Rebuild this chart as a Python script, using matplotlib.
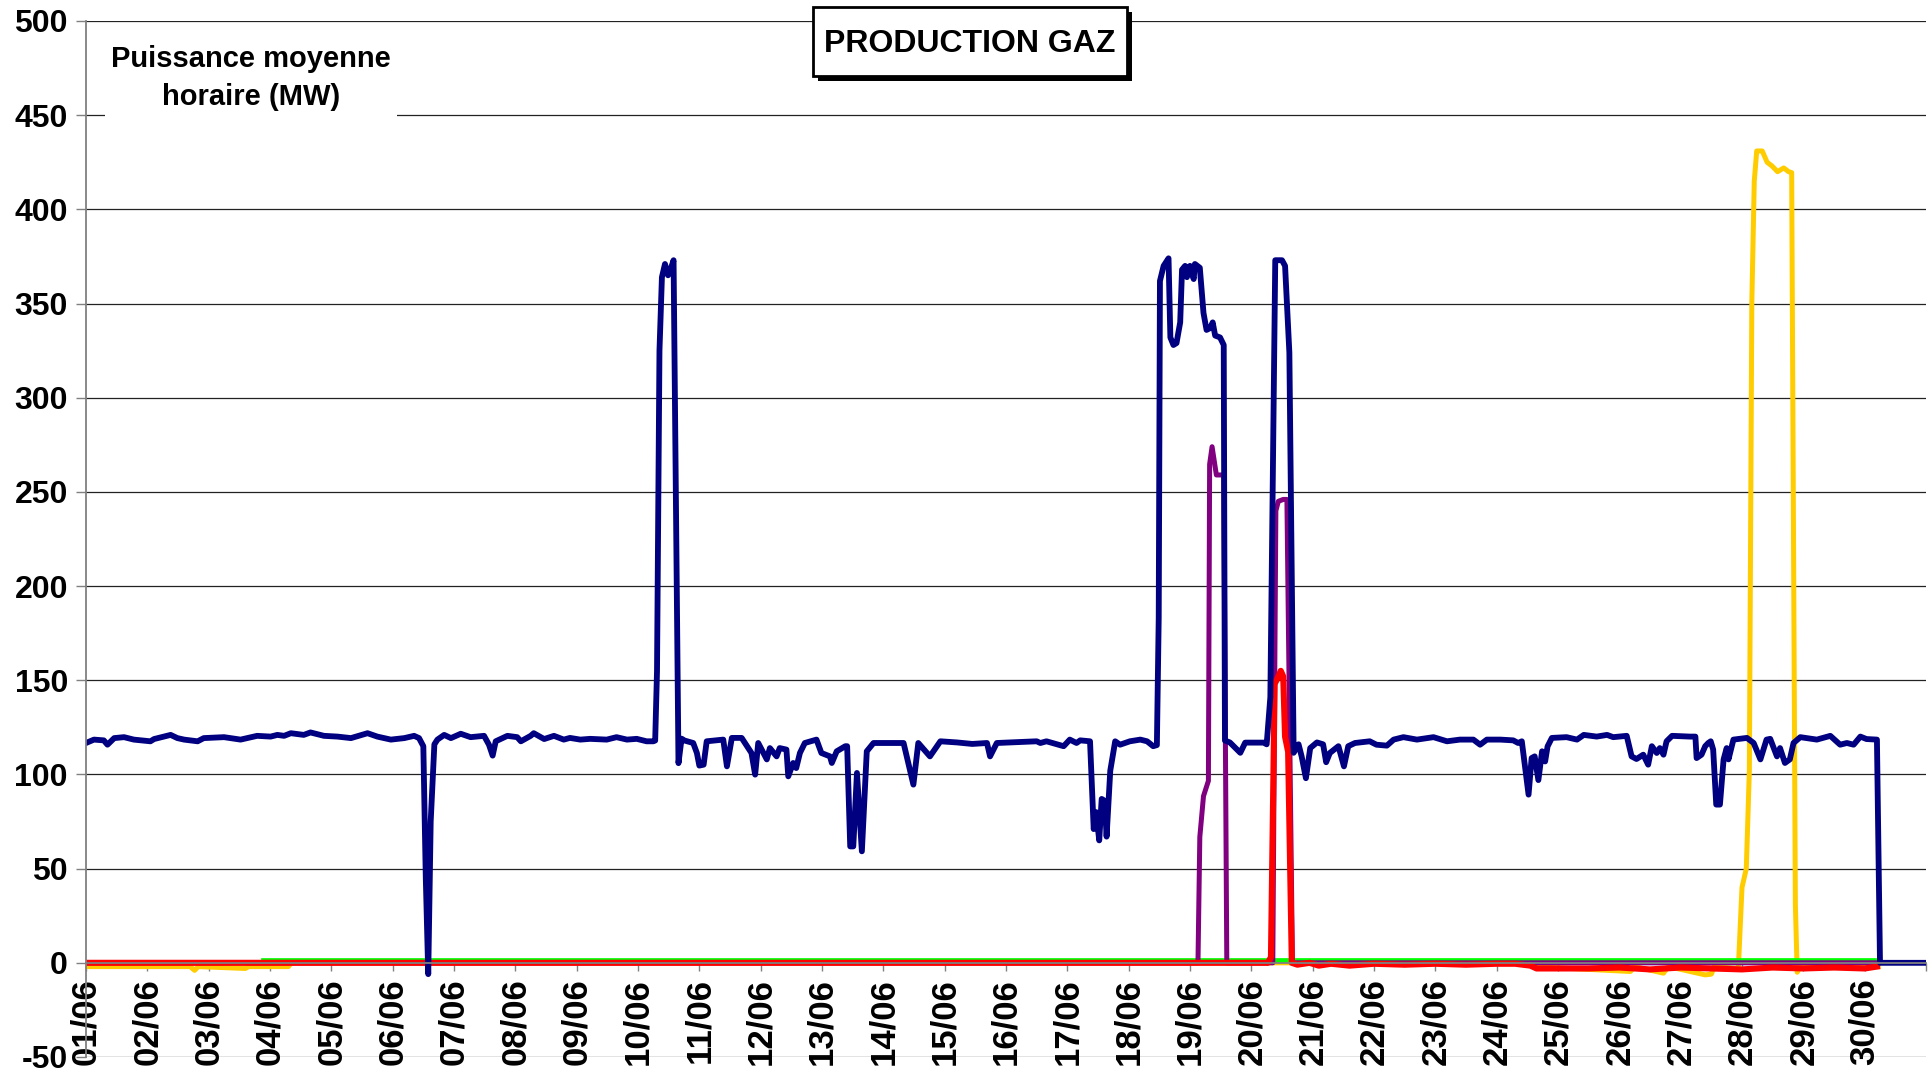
import matplotlib
matplotlib.use("Agg")
import matplotlib.pyplot as plt
from matplotlib.patches import Rectangle

plt.rcParams['font.family'] = ['Liberation Sans', 'DejaVu Sans']
plt.rcParams['font.weight'] = 'bold'
plt.rcParams['axes.unicode_minus'] = False

# x positions are days since 01/06 00h (hourly points)
blue_days = [0.00, 0.13, 0.29, 0.35, 0.46, 0.62, 0.78, 1.05, 1.11, 1.38, 1.49, 1.60, 1.82, 1.92,
             2.25, 2.52, 2.79, 3.01, 3.12, 3.23, 3.34, 3.55, 3.66, 3.88, 4.10, 4.32, 4.59, 4.75,
             4.97, 5.19, 5.35, 5.43, 5.50, 5.54, 5.58, 5.62, 5.68, 5.73, 5.84, 5.95, 6.11, 6.27,
             6.49, 6.57, 6.63, 6.68, 6.87, 7.03, 7.09, 7.25, 7.30, 7.47, 7.63, 7.79, 7.89, 8.06,
             8.22, 8.49, 8.65, 8.82, 8.98, 9.14, 9.25, 9.28, 9.31, 9.35, 9.39, 9.44, 9.49, 9.53,
             9.58, 9.66, 9.71, 9.76, 9.90, 9.96, 10.00, 10.07, 10.12, 10.39, 10.45, 10.53, 10.69,
             10.85, 10.91, 10.96, 11.10, 11.15, 11.26, 11.31, 11.42, 11.45, 11.53, 11.58, 11.64,
             11.72, 11.91, 11.99, 12.13, 12.16, 12.24, 12.38, 12.41, 12.46, 12.51, 12.57, 12.65,
             12.73, 12.84, 13.33, 13.49, 13.57, 13.76, 13.93, 14.20, 14.45, 14.69, 14.74, 14.85,
             15.50, 15.56, 15.66, 15.94, 16.04, 16.15, 16.21, 16.37, 16.43, 16.47, 16.52, 16.56,
             16.61, 16.64, 16.70, 16.78, 16.86, 17.02, 17.19, 17.30, 17.40, 17.46, 17.49, 17.51,
             17.57, 17.65, 17.68, 17.73, 17.78, 17.84, 17.87, 17.92, 17.95, 18.00, 18.06, 18.08,
             18.16, 18.22, 18.27, 18.33, 18.37, 18.41, 18.49, 18.55, 18.57, 18.65, 18.82, 18.90,
             19.20, 19.25, 19.31, 19.39, 19.50, 19.55, 19.62, 19.69, 19.77, 19.82, 19.89, 19.96,
             20.07, 20.17, 20.22, 20.28, 20.42, 20.51, 20.58, 20.69, 20.93, 21.04, 21.21, 21.32,
             21.48, 21.70, 21.97, 22.19, 22.40, 22.62, 22.73, 22.84, 23.06, 23.27, 23.35, 23.41,
             23.52, 23.57, 23.62, 23.68, 23.74, 23.79, 23.83, 23.90, 24.14, 24.31, 24.42, 24.63,
             24.80, 24.90, 25.12, 25.20, 25.28, 25.39, 25.47, 25.53, 25.61, 25.66, 25.72, 25.77,
             25.86, 26.15, 26.24, 26.26, 26.34, 26.40, 26.45, 26.49, 26.53, 26.58, 26.64, 26.70,
             26.75, 26.78, 26.86, 27.08, 27.19, 27.30, 27.40, 27.46, 27.57, 27.62, 27.70, 27.78,
             27.84, 27.95, 28.22, 28.44, 28.60, 28.71, 28.82, 28.93, 29.03, 29.20, 29.25, 30.00]
blue_mw = [116.7, 118.5, 118.1, 115.8, 119.3, 119.8, 118.5, 117.6, 118.8, 121.0, 119.3, 118.5, 117.6, 119.3,
           119.8, 118.5, 120.5, 120.1, 121.0, 120.5, 121.9, 121.0, 122.3, 120.5, 120.1, 119.3, 121.9, 120.1,
           118.5, 119.3, 120.5, 119.3, 115.0, 45.0, -6.0, 75.0, 116.0, 118.5, 121.0, 119.3, 121.6, 119.8,
           120.5, 115.8, 110.0, 117.6, 120.5, 119.8, 117.6, 120.5, 121.9, 118.8, 120.5, 118.5, 119.4, 118.5,
           118.9, 118.5, 119.8, 118.5, 118.9, 117.6, 117.6, 118.0, 155.0, 325.0, 364.0, 371.0, 365.0, 368.0,
           373.0, 106.0, 119.0, 118.0, 116.7, 111.4, 104.7, 105.2, 117.6, 118.5, 104.3, 119.4, 119.4,
           111.4, 99.9, 116.7, 108.0, 114.0, 109.6, 114.0, 113.2, 99.0, 106.1, 103.4, 111.4,
           116.7, 118.5, 111.4, 109.6, 106.1, 112.3, 115.0, 115.0, 61.8, 61.8, 100.8, 59.2,
           112.3, 116.7, 116.7, 94.6, 116.7, 109.6, 117.6, 117.0, 116.2, 116.7, 109.6, 116.7,
           117.6, 116.7, 117.6, 115.0, 118.5, 116.7, 118.1, 117.6, 71.0, 80.0, 65.0, 87.0,
           86.0, 67.0, 102.0, 117.6, 115.8, 117.6, 118.5, 117.6, 115.0, 115.6, 183.0, 362.0,
           370.0, 374.0, 332.0, 328.0, 329.0, 340.0, 368.0, 370.0, 364.0, 370.0, 363.0, 371.0,
           369.0, 345.0, 336.0, 337.0, 340.0, 333.0, 332.0, 328.0, 118.0, 117.0, 111.5, 116.9,
           116.9, 116.0, 141.0, 373.0, 373.0, 370.0, 324.0, 111.5, 116.0, 109.6, 98.0, 114.0,
           117.0, 116.0, 106.5, 111.4, 115.0, 104.3, 115.0, 116.7, 117.6, 115.8, 115.3, 118.5,
           119.8, 118.5, 119.8, 117.6, 118.5, 118.5, 115.8, 118.5, 118.5, 118.1, 116.7, 117.6,
           89.3, 108.7, 109.6, 97.0, 112.3, 106.9, 114.9, 119.4, 119.8, 118.5, 121.0, 120.1,
           121.0, 119.8, 120.5, 109.6, 108.2, 110.5, 105.2, 115.0, 111.4, 114.0, 110.5, 117.6,
           120.5, 120.1, 120.1, 108.7, 110.5, 115.0, 116.7, 117.6, 113.2, 84.0, 84.0, 108.0,
           114.0, 108.0, 118.5, 119.4, 116.7, 108.0, 118.5, 118.9, 109.6, 114.0, 106.1, 108.0,
           116.7, 119.8, 118.5, 120.5, 115.8, 116.7, 115.8, 120.1, 118.8, 118.5, 0.0, 0.0]

purple_days = [0.00, 18.13, 18.16, 18.22, 18.30, 18.32, 18.36, 18.43, 18.55, 18.60,
               19.35, 19.40, 19.44, 19.52, 19.58, 19.67, 29.22]
purple_mw = [0, 0, 66.8, 88.5, 96.6, 264.7, 274.0, 259.0, 259.0, 0,
             0, 240.0, 245.0, 246.0, 246.0, 0, 0]

red_days = [0.00, 19.27, 19.32, 19.38, 19.44, 19.48, 19.52, 19.55, 19.60, 19.66, 19.75, 19.95,
            20.10, 20.30, 20.60, 21.00, 21.50, 22.00, 22.50, 23.00, 23.30, 23.55, 23.65, 24.50,
            25.00, 25.50, 26.00, 26.50, 27.00, 27.50, 28.00, 28.50, 29.00, 29.20]
red_mw = [0, 0, 3, 148, 152, 155, 152, 120, 112, 0, -1.0, 0,
          -1.5, -0.5, -1.5, -0.5, -1.0, -0.5, -1.0, -0.5, -0.5, -1.5, -3.0, -3.0,
          -2.5, -3.5, -2.5, -3.0, -3.5, -2.5, -3.0, -2.5, -3.0, -2.0]

yellow_days = [0.00, 1.70, 1.77, 1.83, 2.60, 2.65, 3.30, 3.35, 23.50, 23.60, 25.18, 25.25,
               25.72, 25.80, 26.40, 26.50, 26.55, 26.94, 27.00, 27.07, 27.12, 27.16, 27.20,
               27.24, 27.33, 27.41, 27.49, 27.58, 27.68, 27.76, 27.81, 27.87, 27.90, 27.95, 29.22]
yellow_mw = [-2, -2, -4, -2, -3, -2, -2, 0, 0, -2, -4.6, -2,
             -5.5, -2, -6.4, -6.0, -2, -3, 40, 50, 102, 350, 415,
             431, 431, 425, 423, 420, 422, 420, 419.5, 31, -5, -2, -2]

green_days = [2.88, 29.22]
green_mw = [1.5, 1.5]

day_labels = ['01/06', '02/06', '03/06', '04/06', '05/06', '06/06', '07/06', '08/06', '09/06', '10/06',
              '11/06', '12/06', '13/06', '14/06', '15/06', '16/06', '17/06', '18/06', '19/06', '20/06',
              '21/06', '22/06', '23/06', '24/06', '25/06', '26/06', '27/06', '28/06', '29/06', '30/06']
y_ticks = [-50, 0, 50, 100, 150, 200, 250, 300, 350, 400, 450, 500]

W, H = 1933, 1080
fig = plt.figure(figsize=(W / 100, H / 100), dpi=100)
ax = fig.add_axes([86 / W, 1 - 1057 / H, (1926 - 86) / W, (1057 - 21) / H])

ax.plot(yellow_days, yellow_mw, color='#FFCC00', lw=3.6, zorder=2.0)
ax.plot(green_days, green_mw, color='#00FF00', lw=3.4, zorder=2.1)
ax.plot(purple_days, purple_mw, color='#800080', lw=3.6, zorder=2.2)
ax.plot(red_days, red_mw, color='#FF0000', lw=4.4, zorder=2.3)
ax.plot(blue_days, blue_mw, color='#000080', lw=4.2, zorder=2.4)

ax.set_xlim(0, 30)
ax.set_ylim(-50, 500)
ax.set_yticks(y_ticks)
ax.set_xticks(range(31))
ax.set_xticklabels(day_labels + [''])
ax.set_axisbelow(True)
ax.grid(axis='y', color='#222222', lw=0.9)

for side in ['top', 'right']:
    ax.spines[side].set_visible(False)
ax.spines['left'].set_color('#808080')
ax.spines['left'].set_linewidth(1.3)
ax.spines['bottom'].set_position(('data', 0))
ax.spines['bottom'].set_color('#808080')
ax.spines['bottom'].set_linewidth(1.3)

ax.tick_params(axis='y', direction='out', length=7, width=1, color='#808080', pad=6, labelsize=23)
ax.tick_params(axis='x', direction='out', length=6, width=1, color='#808080', pad=5, labelsize=25,
               labelrotation=90)


def px_rect(x0, y0, x1, y1, **kw):
    return Rectangle((x0 / W, 1 - y1 / H), (x1 - x0) / W, (y1 - y0) / H,
                     transform=fig.transFigure, **kw)


# axis caption in a white box over the gridlines
fig.add_artist(px_rect(105, 28, 397, 124, facecolor='white', edgecolor='none', zorder=5))
fig.text(251 / W, 1 - 78 / H, 'Puissance moyenne\nhoraire (MW)', ha='center', va='center',
         fontsize=21, fontweight='bold', linespacing=1.45, zorder=7)

# title box with drop shadow
fig.add_artist(px_rect(818, 12, 1132, 81, facecolor='black', edgecolor='none', zorder=5))
fig.add_artist(px_rect(813, 7, 1127, 76, facecolor='white', edgecolor='black', lw=2, zorder=6))
fig.text(970 / W, 1 - 44 / H, 'PRODUCTION GAZ', ha='center', va='center',
         fontsize=23, fontweight='bold', zorder=7)

fig.savefig('out.png', dpi=100)
